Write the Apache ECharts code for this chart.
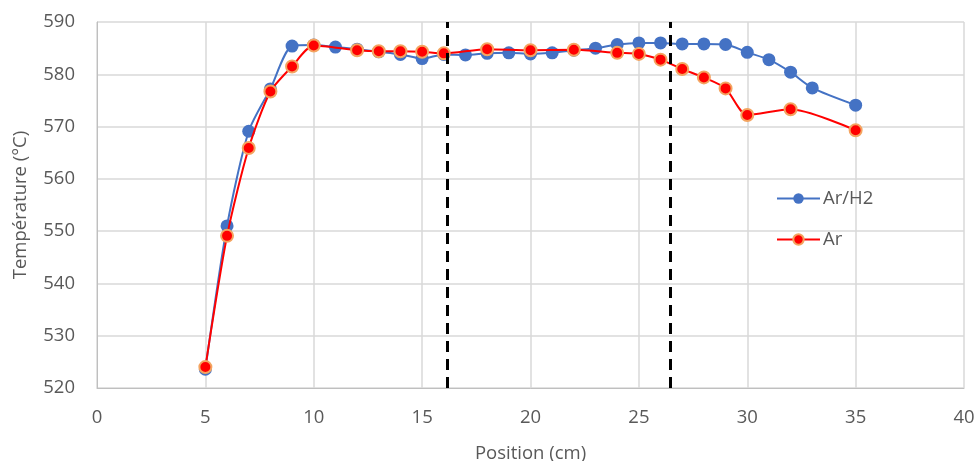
<!DOCTYPE html>
<html><head><meta charset="utf-8">
<script src="https://cdn.jsdelivr.net/npm/echarts@6/dist/echarts.min.js"></script>
<style>html,body{margin:0;padding:0;background:#fff}#c{width:977px;height:461px}</style>
</head><body><div id="c"></div>
<script>
const arH2X = [5,6,7,8,9,10,11,12,13,14,15,16,17,18,19,20,21,22,23,24,25,26,27,28,29,30,31,32,33,35];
const arH2Y = [523.6,551.0,569.1,577.2,585.4,585.6,585.2,584.8,584.3,583.8,583.0,583.8,583.7,584.0,584.1,583.9,584.1,584.6,585.0,585.7,586.0,586.0,585.8,585.8,585.7,584.2,582.8,580.4,577.4,574.1];
const arX = [5,6,7,8,9,10,12,13,14,15,16,18,20,22,24,25,26,27,28,29,30,32,35];
const arY = [524.0,549.1,565.9,576.7,581.5,585.5,584.6,584.4,584.4,584.3,584.0,584.8,584.6,584.7,584.1,583.9,582.8,581.0,579.4,577.3,572.2,573.3,569.3];
const dashedX = [16.17, 26.47];
const xTicks = {min:0, max:40, interval:5};
const yTicks = {min:520, max:590, interval:10};

const font = '"Open Sans", "Liberation Sans", sans-serif';
const chart = echarts.init(document.getElementById('c'));
const pair = (xs, ys) => xs.map((x,i)=>[x, ys[i]]);
chart.setOption({
  animation:false,
  grid:{left:97, right:13, top:22, bottom:73, containLabel:false, outerBoundsMode:'none'},
  legend:{
    orient:'vertical', left:771, top:184, itemGap:22, itemWidth:43, itemHeight:13,
    textStyle:{fontFamily:font, fontSize:18.5, color:'#595959', padding:[0,0,0,-2]},
    data:['Ar/H2','Ar']
  },
  xAxis:{
    type:'value', min:xTicks.min, max:xTicks.max, interval:xTicks.interval,
    name:'Position (cm)', nameLocation:'middle', nameGap:56,
    nameTextStyle:{fontFamily:font, fontSize:18.5, color:'#595959'},
    axisLine:{show:true, lineStyle:{color:'#bfbfbf', width:1}},
    axisTick:{show:false},
    axisLabel:{fontFamily:font, fontSize:18.5, color:'#595959', margin:20},
    splitLine:{show:true, lineStyle:{color:'#d9d9d9', width:1.5}}
  },
  yAxis:{
    type:'value', min:yTicks.min, max:yTicks.max, interval:yTicks.interval,
    name:'Température (°C)', nameLocation:'middle', nameGap:67,
    nameTextStyle:{fontFamily:font, fontSize:18.5, color:'#595959'},
    axisLine:{show:true, lineStyle:{color:'#bfbfbf', width:1}},
    axisTick:{show:false},
    axisLabel:{fontFamily:font, fontSize:18.5, color:'#595959', margin:22},
    splitLine:{show:true, lineStyle:{color:'#d9d9d9', width:1.5}}
  },
  series:[
    {
      name:'Ar/H2', type:'line', data:pair(arH2X, arH2Y), smooth:0.25,
      symbol:'circle', symbolSize:13,
      lineStyle:{color:'#4472C4', width:2},
      itemStyle:{color:'#4472C4'},
      z:2,
      markLine:{
        silent:true, symbol:'none', label:{show:false},
        lineStyle:{color:'#000', type:[11,7], width:3},
        data:dashedX.map(v=>({xAxis:v}))
      }
    },
    {
      name:'Ar', type:'line', data:pair(arX, arY), smooth:0.25,
      symbol:'circle', symbolSize:12,
      lineStyle:{color:'#FF0000', width:2},
      itemStyle:{color:'#FF0000', borderColor:'#F4A460', borderWidth:2},
      z:3
    }
  ]
});
</script></body></html>
